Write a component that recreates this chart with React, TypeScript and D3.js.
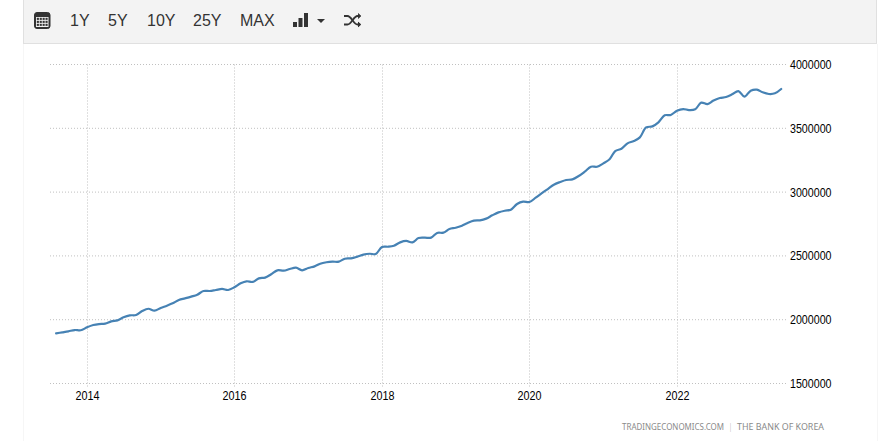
import React from "react";
import * as d3 from "d3";

const W = 882, H = 441;
const startMonth = new Date(2013, 7, 1);
const reserveValues = [
  1893,1901,1909,1919,1917,
  1940,1958,1966,1969,1987,1995,2019,2034,2037,2068,2086,2071,
  2092,2110,2128,2154,2167,2181,2196,2225,2225,2233,2241,2233,
  2254,2285,2301,2296,2324,2330,2356,2387,2384,2397,2408,2387,
  2405,2418,2439,2450,2455,2455,2478,2481,2494,2510,2517,2515,
  2570,2572,2580,2606,2617,2606,2640,2643,2643,2680,2682,2711,
  2721,2737,2758,2776,2779,2792,2818,2841,2854,2862,2907,2925,
  2922,2956,2990,3024,3058,3079,3095,3100,3126,3160,3199,3199,
  3225,3257,3322,3340,3382,3400,3429,3507,3515,3547,3602,3604,
  3638,3651,3643,3649,3701,3690,3717,3737,3745,3766,3792,3748,
  3795,3803,3782,3769,3774,3808,
].map((v) => v * 1000);
const yTicks = [1500000, 2000000, 2500000, 3000000, 3500000, 4000000];
const xTicks = [2014, 2016, 2018, 2020, 2022];
const rangeButtons = [
  { label: "1Y", x: 70 }, { label: "5Y", x: 108 }, { label: "10Y", x: 147 },
  { label: "25Y", x: 193 }, { label: "MAX", x: 240 },
];
const footerParts = [
  { text: "TRADINGECONOMICS.COM", x: 622, w: 102 },
  { text: "|", x: 729.5, w: 2 },
  { text: "THE BANK OF KOREA", x: 737, w: 87 },
];

const x = d3.scaleTime().domain([new Date(2014, 0, 1), new Date(2022, 0, 1)]).range([87, 677]);
const y = d3.scaleLinear().domain([1500000, 4000000]).range([383.5, 64.5]);
const line = d3.line<number>()
  .x((_, i) => x(d3.timeMonth.offset(startMonth, i)))
  .y((d) => y(d))
  .curve(d3.curveCatmullRom.alpha(0.5));

const gridColor = "#c0c0c0";
const labelFont = "'Liberation Sans', Arial, sans-serif";

export default function App() {
  return (
    <svg width={W} height={H} style={{ position: "fixed", left: 0, top: 0, background: "#fff" }}>
      <rect x={23.5} y={-2} width={853} height={45.5} fill="#f3f3f3" stroke="#e0e0e0" />
      <line x1={23.5} x2={23.5} y1={44} y2={441} stroke="#f6f6f6" />
      <line x1={877.5} x2={877.5} y1={44} y2={441} stroke="#f6f6f6" />
      <g transform="translate(34,12)">
        <rect x={0.5} y={0.5} width={15.5} height={16} rx={2.5} fill="#333" stroke="#333" />
        <rect x={2} y={5} width={12.5} height={10} fill="#f3f3f3" />
        {d3.range(3).flatMap((r) => d3.range(4).map((c) => (
          <rect key={`${r}-${c}`} x={2.8 + c * 2.9} y={5.8 + r * 3} width={2.1} height={2.1} fill="#333" />
        )))}
      </g>
      {rangeButtons.map((b) => (
        <text key={b.label} x={b.x} y={25.5} fontFamily={labelFont} fontSize={16} fill="#333">{b.label}</text>
      ))}
      <g fill="#333">
        <rect x={293} y={22} width={4} height={5} />
        <rect x={298.5} y={18} width={4} height={9} />
        <rect x={304} y={13} width={4} height={14} />
        <path d="M317,19 L325,19 L321,23 Z" />
      </g>
      <g fill="none" stroke="#333" strokeWidth={1.8}>
        <path d="M344,16 H347.5 C351.5,16 353.5,24.5 357.5,24.5 H360" />
        <path d="M344,24.5 H347.5 C351.5,24.5 353.5,16 357.5,16 H360" />
        <path d="M358,13.5 L360.8,16 L358,18.5" fill="#333" strokeWidth={1} />
        <path d="M358,22 L360.8,24.5 L358,27" fill="#333" strokeWidth={1} />
      </g>
      {yTicks.map((t) => (
        <g key={t}>
          <line x1={50} x2={787} y1={y(t)} y2={y(t)} stroke={gridColor} strokeDasharray="1 2" />
          <text x={790} y={y(t) + 4.5} fontFamily={labelFont} fontSize={12} textLength={41.5} lengthAdjust="spacingAndGlyphs" fill="#000">{t}</text>
        </g>
      ))}
      {xTicks.map((t) => {
        const px = Math.round(x(new Date(t, 0, 1))) + 0.5;
        return (
          <g key={t}>
            <line x1={px} x2={px} y1={64.5} y2={388} stroke={gridColor} strokeDasharray="1 2" />
            <text x={px - 12} y={400} fontFamily={labelFont} fontSize={12} textLength={24} lengthAdjust="spacingAndGlyphs" fill="#000">{t}</text>
          </g>
        );
      })}
      <path d={line(reserveValues) ?? ""} fill="none" stroke="#4682b4" strokeWidth={2.2} strokeLinejoin="round" strokeLinecap="round" />
      {footerParts.map((p) => (
        <text key={p.text} x={p.x} y={430} fontFamily="'Noto Sans', sans-serif" fontSize={8.4} fill="#8a8a8a" textLength={p.w} lengthAdjust="spacingAndGlyphs">{p.text}</text>
      ))}
    </svg>
  );
}
